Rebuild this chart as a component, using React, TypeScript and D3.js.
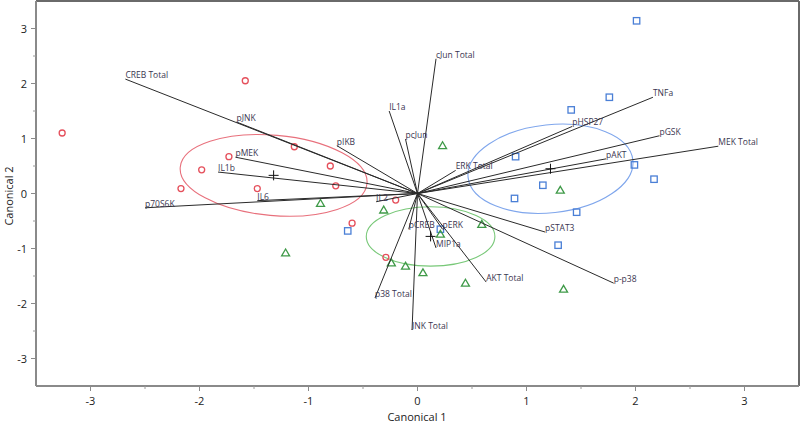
import React from 'react';
import * as d3 from 'd3';

const W = 800;
const H = 423;

const xTicks = [-3, -2, -1, 0, 1, 2, 3];
const yTicks = [-3, -2, -1, 0, 1, 2, 3];
const minorTicks = [-2.5, -1.5, -0.5, 0.5, 1.5, 2.5];

const rayNames = ['CREB Total', 'pJNK', 'pMEK', 'IL1b', 'IL6', 'p70S6K', 'pIKB', 'IL1a', 'pcJun', 'cJun Total', 'ERK Total', 'IL2', 'TNFa', 'pHSP27', 'pGSK', 'MEK Total', 'pAKT', 'pSTAT3', 'p-p38', 'AKT Total', 'JNK Total', 'p38 Total', 'pCREB', 'pERK', 'MIP1a'];
const rayX = [-2.68, -1.66, -1.67, -1.83, -1.47, -2.5, -0.74, -0.26, -0.11, 0.17, 0.35, -0.38, 2.16, 1.42, 2.22, 2.76, 1.73, 1.17, 1.8, 0.63, -0.05, -0.39, -0.08, 0.23, 0.17];
const rayY = [2.08, 1.3, 0.66, 0.39, -0.13, -0.26, 0.87, 1.5, 0.99, 2.45, 0.42, -0.15, 1.75, 1.22, 1.05, 0.86, 0.63, -0.7, -1.63, -1.61, -2.48, -1.9, -0.65, -0.65, -0.99];

const redX = [-3.26, -1.58, -1.73, -1.98, -2.17, -1.47, -1.13, -0.8, -0.75, -0.2, -0.6, -0.29];
const redY = [1.1, 2.05, 0.67, 0.43, 0.09, 0.09, 0.85, 0.5, 0.14, -0.12, -0.54, -1.16];
const blueX = [2.01, 1.76, 1.41, 1.99, 2.17, 1.15, 1.46, 0.9, 0.89, 1.29, -0.64, 0.21];
const blueY = [3.14, 1.75, 1.52, 0.52, 0.26, 0.15, -0.34, 0.67, -0.09, -0.94, -0.68, -0.65];
const greenX = [0.23, -0.89, -0.31, 1.31, -1.21, -0.24, -0.11, 0.05, 0.44, 0.59, 0.21, 1.34];
const greenY = [0.87, -0.18, -0.3, 0.06, -1.08, -1.26, -1.32, -1.44, -1.63, -0.56, -0.74, -1.74];

const centroidX = [-1.32, 1.22, 0.12];
const centroidY = [0.33, 0.45, -0.78];
const ellipseRX = [0.86, 0.76, 0.59];
const ellipseRY = [0.73, 0.8, 0.54];

const groupColors = ['#e5505c', '#4a7fd6', '#3f9a48'];
const ellipseColors = ['#e8707c', '#7fa6ec', '#78c878'];
const ellipseRotate = [5, -6, 0];

const FONT = '"Open Sans", "Noto Sans", sans-serif';

export default function App() {
  const x = d3.scaleLinear().domain([-3.5, 3.5]).range([36, 799]);
  const y = d3.scaleLinear().domain([-3.5, 3.5]).range([386, 1]);
  const pxPerX = x(1) - x(0);
  const pxPerY = y(0) - y(1);
  const ox = x(0);
  const oy = y(0);

  const groups = [
    { xs: redX, ys: redY, shape: 'circle' },
    { xs: blueX, ys: blueY, shape: 'square' },
    { xs: greenX, ys: greenY, shape: 'triangle' },
  ];

  const marker = (shape: string, cx: number, cy: number, color: string, key: string) => {
    if (shape === 'circle') return <circle key={key} cx={cx} cy={cy} r={3} fill="none" stroke={color} strokeWidth={1.3} />;
    if (shape === 'square') return <rect key={key} x={cx - 3.2} y={cy - 3.2} width={6.4} height={6.4} fill="none" stroke={color} strokeWidth={1.3} />;
    return <path key={key} d={`M${cx},${cy - 3.9}L${cx + 4},${cy + 3}L${cx - 4},${cy + 3}Z`} fill="none" stroke={color} strokeWidth={1.3} />;
  };

  return (
    <svg width={W} height={H} style={{ position: 'absolute', left: 0, top: 0, background: '#fff' }}>
      {/* frame */}
      <line x1={36} y1={1} x2={799} y2={1} stroke="#6a6a6a" strokeWidth={2} />
      <line x1={799} y1={1} x2={799} y2={386} stroke="#6a6a6a" strokeWidth={2} />
      <line x1={36} y1={1} x2={36} y2={386} stroke="#8a8a8a" strokeWidth={2} />
      <line x1={36} y1={386} x2={799} y2={386} stroke="#8a8a8a" strokeWidth={2} />

      {/* ticks */}
      {xTicks.map((t) => (
        <g key={'xt' + t}>
          <line x1={x(t)} x2={x(t)} y1={386} y2={391} stroke="#8a8a8a" strokeWidth={1} />
          <text x={x(t)} y={405} textAnchor="middle" fontSize={11} fontFamily={FONT} fill="#222">{t}</text>
        </g>
      ))}
      {minorTicks.map((t) => (
        <line key={'xm' + t} x1={x(t)} x2={x(t)} y1={386} y2={389} stroke="#9a9a9a" strokeWidth={1} />
      ))}
      {yTicks.map((t) => (
        <g key={'yt' + t}>
          <line x1={31} x2={36} y1={y(t)} y2={y(t)} stroke="#8a8a8a" strokeWidth={1} />
          <text x={27} y={y(t) + 4} textAnchor="end" fontSize={11} fontFamily={FONT} fill="#222">{t}</text>
        </g>
      ))}
      {minorTicks.map((t) => (
        <line key={'ym' + t} x1={33} x2={36} y1={y(t)} y2={y(t)} stroke="#9a9a9a" strokeWidth={1} />
      ))}

      {/* axis titles */}
      <text x={417} y={421} textAnchor="middle" fontSize={11} fontFamily={FONT} fill="#222">Canonical 1</text>
      <text transform={`translate(13,196) rotate(-90)`} textAnchor="middle" fontSize={11} fontFamily={FONT} fill="#222">Canonical 2</text>

      {/* ellipses */}
      {centroidX.map((c, i) => (
        <ellipse
          key={'el' + i}
          cx={x(c)}
          cy={y(centroidY[i])}
          rx={ellipseRX[i] * pxPerX}
          ry={ellipseRY[i] * pxPerY}
          transform={`rotate(${ellipseRotate[i]},${x(c)},${y(centroidY[i])})`}
          fill="none"
          stroke={ellipseColors[i]}
          strokeWidth={1.1}
        />
      ))}

      {/* markers */}
      {groups.map((g, gi) => g.xs.map((v, i) => marker(g.shape, x(v), y(g.ys[i]), groupColors[gi], `m${gi}-${i}`)))}

      {/* rays */}
      {rayNames.map((n, i) => (
        <line key={'r' + i} x1={ox} y1={oy} x2={x(rayX[i])} y2={y(rayY[i])} stroke="#2a2a2a" strokeWidth={1} />
      ))}
      {rayNames.map((n, i) => (
        <text key={'rl' + i} x={x(rayX[i])} y={y(rayY[i]) - 1} fontSize={8.5} fontFamily={FONT} fill="#3a3550">{n}</text>
      ))}

      {/* centroids */}
      {centroidX.map((c, i) => (
        <path key={'c' + i} d={`M${x(c) - 5},${y(centroidY[i])}H${x(c) + 5}M${x(c)},${y(centroidY[i]) - 5}V${y(centroidY[i]) + 5}`} stroke="#111" strokeWidth={1} />
      ))}
    </svg>
  );
}
